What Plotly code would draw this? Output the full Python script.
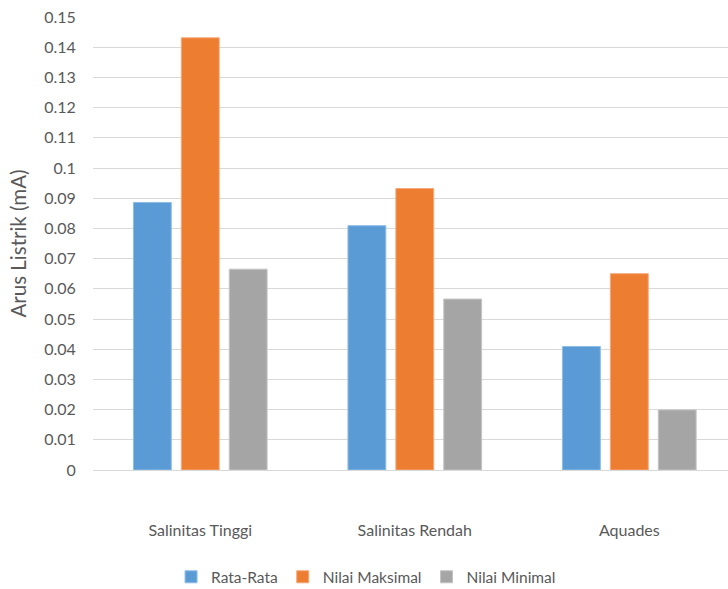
import plotly.graph_objects as go

# Arus listrik per sample type
categories = ["Salinitas Tinggi", "Salinitas Rendah", "Aquades"]
rata_rata = [0.0886, 0.0809, 0.0409]
nilai_maksimal = [0.1431, 0.0932, 0.0650]
nilai_minimal = [0.0665, 0.0566, 0.0199]

series_names = ["Rata-Rata", "Nilai Maksimal", "Nilai Minimal"]
series_values = [rata_rata, nilai_maksimal, nilai_minimal]
colors = ["#5B9BD5", "#ED7D31", "#A5A5A5"]
outlines = ["#8DBDE8", "#F5A878", "#C4C4C4"]

y_ticks = [i / 100 for i in range(16)]
y_ticktext = ["0"] + [f"{v:g}" for v in y_ticks[1:]]

fig = go.Figure()
for name, vals, col, oc in zip(series_names, series_values, colors, outlines):
    fig.add_trace(go.Bar(
        x=categories, y=vals, name=name,
        marker=dict(color=col, line=dict(color=oc, width=1)),
    ))

font_family = "Lato, 'Open Sans', sans-serif"
fig.update_layout(
    width=728, height=589,
    paper_bgcolor="white", plot_bgcolor="white",
    margin=dict(l=93, r=0, t=17, b=119, autoexpand=False),
    barmode="group", bargap=0.33, bargroupgap=0.21,
    font=dict(family=font_family, color="#595959"),
    showlegend=True,
    legend=dict(orientation="h", x=0.43, xanchor="center",
                yref="container", y=0.02, yanchor="middle",
                font=dict(size=15.5, color="#595959"), itemwidth=30,
                traceorder="normal"),
    xaxis=dict(
        range=[-0.5, 2.46], showgrid=False, zeroline=False, showline=False,
        ticks="outside", ticklen=46, tickcolor="rgba(0,0,0,0)",
        tickfont=dict(size=16, color="#595959"),
    ),
    yaxis=dict(
        range=[0, 0.15], tickvals=y_ticks, ticktext=y_ticktext,
        showgrid=True, gridcolor="#D9D9D9", gridwidth=1,
        zeroline=True, zerolinecolor="#D9D9D9", zerolinewidth=1,
        showline=False, ticks="outside", ticklen=13, tickcolor="rgba(0,0,0,0)",
        tickfont=dict(size=16, color="#595959"),
        title=dict(text="Arus Listrik (mA)", font=dict(size=20.5, color="#595959"), standoff=11),
    ),
)

fig.write_html("out.html")
